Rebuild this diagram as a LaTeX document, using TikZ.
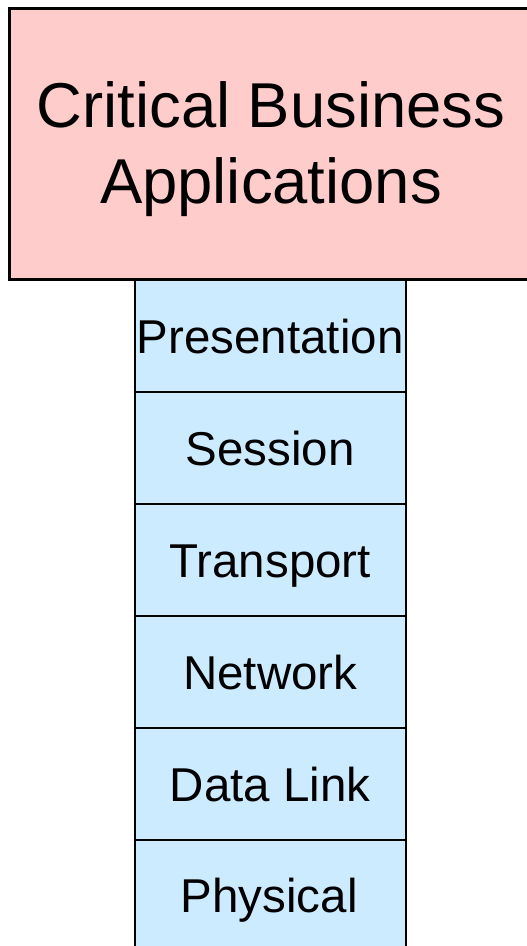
\documentclass[tikz,border=0pt]{standalone}
\usepackage{fontspec}
\setmainfont{Liberation Sans}
\definecolor{pinkfill}{RGB}{255,204,204}
\definecolor{bluefill}{RGB}{204,235,255}
\begin{document}
\begin{tikzpicture}[x=1pt,y=-1pt,
  appbox/.style={draw=black,line width=2.5pt,fill=pinkfill},
  layerfont/.style={font=\fontsize{47.5}{57}\selectfont,text height=35.5pt,text depth=0pt},
  layerbox/.style={draw=black,line width=2pt,fill=bluefill,minimum width=271.5pt,minimum height=112pt,inner sep=0pt,anchor=north west,layerfont}]
\useasboundingbox (0,0) rectangle (527,946);
\clip (0,0) rectangle (527,946);
\node[appbox,minimum width=526pt,minimum height=271pt,inner sep=0pt,anchor=north west] (app) at (8,7) {};
\node[align=center,font=\fontsize{63.4}{76}\selectfont] (apptext) at (271,149) {Critical Business\\Applications};
\node[layerbox] (pres) at (133.5,279) {Presentation};
\node[layerbox] (sess) at (133.5,391) {Session};
\node[layerbox] (trans) at (133.5,503) {Transport};
\node[layerbox] (net) at (133.5,615) {Network};
\node[layerbox] (dl) at (133.5,727) {Data Link};
\node[layerbox,minimum height=120pt] (phys) at (133.5,839) {};
\node[layerfont,inner sep=0pt] (physt) at (269.25,895) {Physical};
\end{tikzpicture}
\end{document}
